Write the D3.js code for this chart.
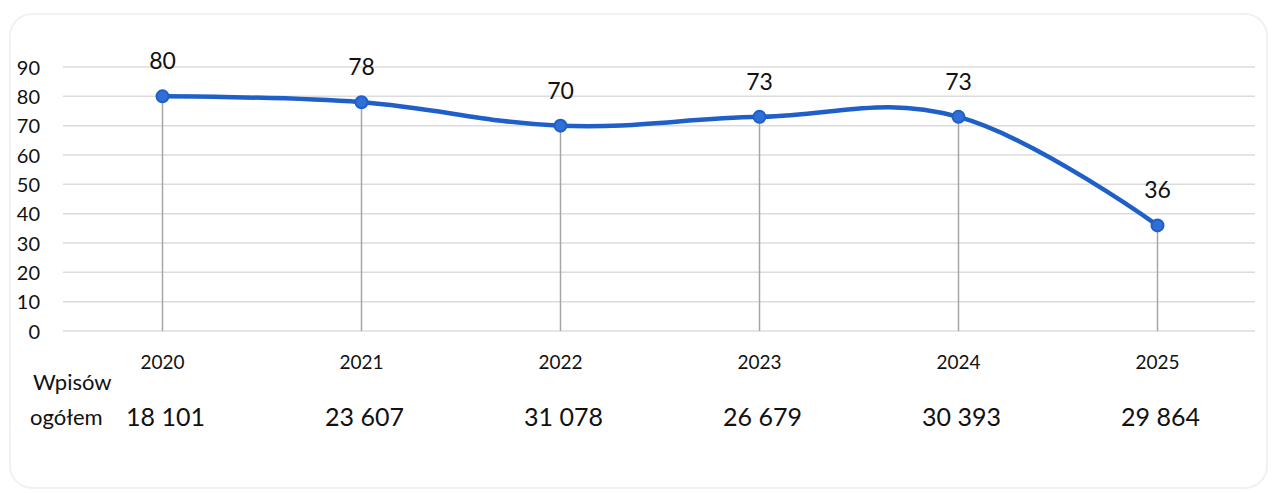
<!DOCTYPE html>
<html><head><meta charset="utf-8">
<script src="https://cdn.jsdelivr.net/npm/d3@7"></script>
<style>body{margin:0;background:#fff;}svg{display:block;}</style>
</head><body>
<svg id="c" width="1273" height="493"></svg>
<script>
const years = ["2020","2021","2022","2023","2024","2025"];
const values = [80, 78, 70, 73, 73, 36];
const totals = ["18 101","23 607","31 078","26 679","30 393","29 864"];
const yTicks = [0,10,20,30,40,50,60,70,80,90];
const rowLabel = ["Wpisów","ogółem"];

const svg = d3.select("#c");
const font = "Lato, 'Open Sans', sans-serif";

svg.append("rect").attr("x",10).attr("y",14).attr("width",1257).attr("height",474)
  .attr("rx",22).attr("fill","none").attr("stroke","#f1f1f1").attr("stroke-width",2);

const x = d3.scaleBand().domain(years).range([63,1257]).padding(0);
const y = d3.scaleLinear().domain([0,90]).range([331,67]);
const cx = d => x(d) + x.bandwidth()/2;

// gridlines
svg.append("g").selectAll("line").data(yTicks).join("line")
  .attr("x1",63).attr("x2",1255).attr("y1",d=>y(d)).attr("y2",d=>y(d))
  .attr("stroke","#dcdcdc").attr("stroke-width",1.5);

// y axis labels
const yAxis = d3.axisLeft(y).tickValues(yTicks).tickSize(0).tickPadding(0);
const ga = svg.append("g").attr("transform","translate(40,0)").call(yAxis);
ga.select(".domain").remove();
ga.selectAll("text").attr("font-family",font).attr("font-size",20).attr("fill","#111").attr("dy","0.36em");

// drop lines
svg.append("g").selectAll("line").data(years).join("line")
  .attr("x1",d=>cx(d)).attr("x2",d=>cx(d))
  .attr("y1",(d,i)=>y(values[i])).attr("y2",y(0))
  .attr("stroke","#a6a6a6").attr("stroke-width",1.5);

// line
const line = d3.line().x((d,i)=>cx(years[i])).y(d=>y(d)).curve(d3.curveCardinal.tension(-0.15));
svg.append("path").datum(values).attr("d",line).attr("fill","none")
  .attr("stroke","#1f5fc8").attr("stroke-width",4.5).attr("stroke-linejoin","round");

// markers
svg.append("g").selectAll("circle").data(values).join("circle")
  .attr("cx",(d,i)=>cx(years[i])).attr("cy",d=>y(d)).attr("r",6)
  .attr("fill","#2f6fd6").attr("stroke","#1f5fc8").attr("stroke-width",2);

// data labels
svg.append("g").selectAll("text").data(values).join("text")
  .attr("x",(d,i)=>cx(years[i])).attr("y",d=>y(d)-27)
  .attr("text-anchor","middle").attr("font-family",font).attr("font-size",23).attr("fill","#111")
  .text(d=>d);

// x labels
svg.append("g").selectAll("text").data(years).join("text")
  .attr("x",d=>cx(d)).attr("y",369).attr("text-anchor","middle")
  .attr("font-family",font).attr("font-size",19).attr("fill","#111").text(d=>d);

// totals
svg.append("g").selectAll("text").data(totals).join("text")
  .attr("x",(d,i)=>cx(years[i])+3).attr("y",426).attr("text-anchor","middle")
  .attr("font-family",font).attr("font-size",25).attr("fill","#111").text(d=>d);

// row label
svg.append("g").selectAll("text").data(rowLabel).join("text")
  .attr("x",(d,i)=>i===0?33:30).attr("y",(d,i)=>i===0?390:425)
  .attr("font-family",font).attr("font-size",22).attr("fill","#111").text(d=>d);
</script>
</body></html>
